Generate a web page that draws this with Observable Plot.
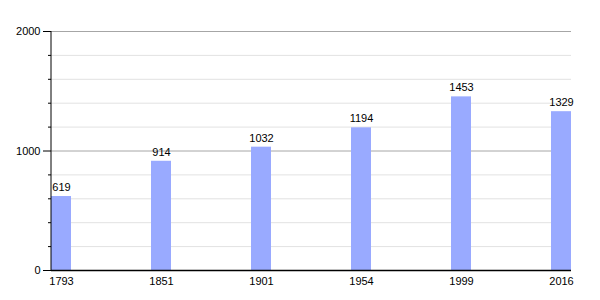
<!DOCTYPE html>
<html><head><meta charset="utf-8">
<script src="https://cdn.jsdelivr.net/npm/d3@7"></script>
<script src="https://cdn.jsdelivr.net/npm/@observablehq/plot@0.6"></script>
<style>body{margin:0;background:#fff}</style>
</head><body><div id="chart"></div>
<script>
const years = ["1793","1851","1901","1954","1999","2016"];
const population = [619, 914, 1032, 1194, 1453, 1329];
const majorTicks = [0, 1000, 2000];
const minorTicks = [200, 400, 600, 800, 1200, 1400, 1600, 1800];

const data = years.map((y, i) => ({year: y, value: population[i]}));

const chart = Plot.plot({
  width: 600, height: 300,
  marginLeft: 51, marginRight: 29, marginTop: 31, marginBottom: 30,
  style: {fontFamily: "'Liberation Sans', Arial, sans-serif", fontSize: "11px", color: "#000"},
  x: {type: "band", domain: years, paddingInner: 0.8, paddingOuter: 0, label: null},
  y: {domain: [0, 2000], label: null},
  marks: [
    Plot.ruleY(minorTicks, {stroke: "#e2e2e2"}),
    Plot.ruleY([1000, 2000], {stroke: "#a6a6a6"}),
    Plot.barY(data, {x: "year", y: "value", fill: "#99aaff"}),
    Plot.text(data, {x: "year", y: "value", text: d => String(d.value), dy: -9, fill: "#000", fontSize: 11}),
    Plot.axisY({ticks: majorTicks, tickSize: 8, tickPadding: 3, tickFormat: d => String(d), label: null, stroke: "#000"}),
    Plot.axisY({ticks: minorTicks, tickSize: 3, text: null, label: null, stroke: "#000"}),
    Plot.axisX({tickSize: 0, tickPadding: 7, label: null}),
    Plot.frame({anchor: "left", stroke: "#000", dx: -0.5}),
    Plot.ruleY([0], {stroke: "#000", strokeWidth: 1.3})
  ]
});
document.getElementById("chart").append(chart);
</script>
</body></html>
